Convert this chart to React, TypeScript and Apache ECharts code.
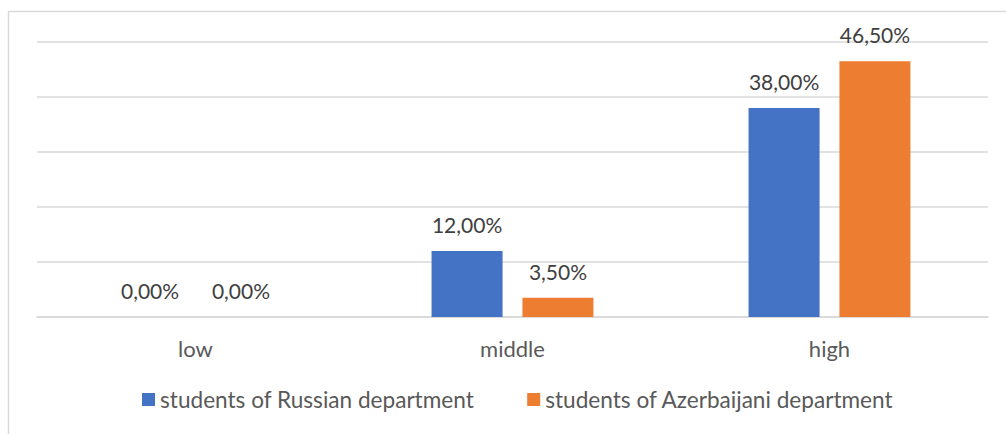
import React, { useEffect, useRef } from "react";
import * as echarts from "echarts";

const categories = ["low", "middle", "high"];
const russian = [0, 12, 38];
const azerbaijani = [0, 3.5, 46.5];
const seriesNames = ["students of Russian department", "students of Azerbaijani department"];

const fmt = (v: number) => v.toFixed(2).replace(".", ",") + "%";
const FONT = "Lato, 'Open Sans', sans-serif";

export default function App() {
  const ref = useRef<HTMLDivElement>(null);
  useEffect(() => {
    const chart = echarts.init(ref.current!, null, { renderer: "svg" });
    const label = {
      show: true,
      position: "top" as const,
      distance: 16,
      color: "#404040",
      fontSize: 21,
      fontFamily: FONT,
      formatter: (p: any) => fmt(p.value),
    };
    chart.setOption({
      animation: false,
      backgroundColor: "#ffffff",
      graphic: [
        {
          type: "rect",
          shape: { x: 8.5, y: 11.5, width: 1200, height: 600 },
          style: { fill: "none", stroke: "#d9d9d9", lineWidth: 1.5 },
          silent: true,
        },
      ],
      grid: { left: 37, right: 18, top: 42, bottom: 117 },
      legend: {
        bottom: 18,
        left: 137,
        icon: "rect",
        itemWidth: 13,
        itemHeight: 13,
        itemGap: 53,
        textStyle: { color: "#595959", fontSize: 22.6, fontFamily: FONT },
        data: seriesNames,
      },
      xAxis: {
        type: "category",
        data: categories,
        axisLine: { lineStyle: { color: "#d9d9d9", width: 1.5 } },
        axisTick: { show: false },
        axisLabel: { color: "#595959", fontSize: 22, fontFamily: FONT, margin: 20 },
      },
      yAxis: {
        type: "value",
        min: 0,
        max: 50,
        interval: 10,
        axisLabel: { show: false },
        axisLine: { show: false },
        axisTick: { show: false },
        splitLine: { lineStyle: { color: "#d9d9d9", width: 1.5 } },
      },
      series: [
        {
          name: seriesNames[0],
          type: "bar",
          data: russian,
          barWidth: 71,
          barGap: "28%",
          itemStyle: { color: "#4472c4" },
          label,
        },
        {
          name: seriesNames[1],
          type: "bar",
          data: azerbaijani,
          barWidth: 71,
          barGap: "28%",
          itemStyle: { color: "#ed7d31" },
          label,
        },
      ],
    });
    return () => chart.dispose();
  }, []);
  return (
    <div
      ref={ref}
      style={{ position: "fixed", left: 0, top: 0, width: 1006, height: 434 }}
    />
  );
}
